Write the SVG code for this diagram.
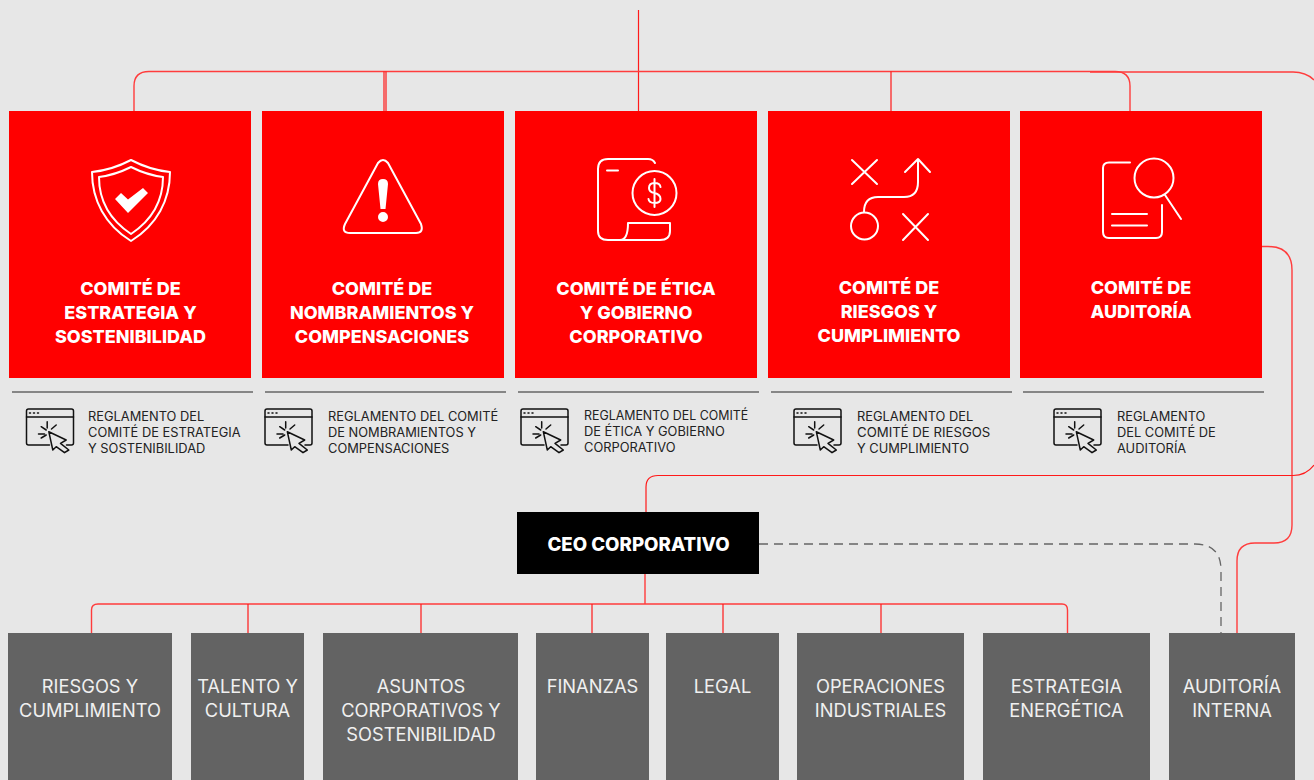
<svg xmlns="http://www.w3.org/2000/svg" width="1314" height="780" viewBox="0 0 1314 780">
<style>
.red{fill:#ff0000}
.gray{fill:#636363}
.t{font-family:"Inter","Liberation Sans",sans-serif;font-weight:800;font-size:18px;fill:#fff;text-anchor:middle}
.c{font-size:18.700px}
.g{font-family:"Inter","Liberation Sans",sans-serif;font-size:18.300px;fill:#f0f0f0;text-anchor:middle}
.r{font-family:"Inter","Liberation Sans",sans-serif;font-size:12.850px;fill:#222}
.rule{stroke:#666;stroke-width:1.5;fill:none}
.ic{fill:none;stroke:#fff;stroke-width:2;stroke-linecap:round;stroke-linejoin:round}
.conn{fill:none;stroke:#ff1a1a;stroke-width:1.2}
.soft{fill:none;stroke:#ff3c3c;stroke-width:1.4}
.dash{fill:none;stroke:#666;stroke-width:1.3;stroke-dasharray:9 6}
.br{fill:none;stroke:#111;stroke-width:1.500;stroke-linejoin:round;stroke-linecap:round}
</style>
<defs>
<g id="click">
<path class="br" d="M24 37H3a2 2 0 0 1-2-2V3a2 2 0 0 1 2-2h43a2 2 0 0 1 2 2v32a2 2 0 0 1-2 2h-5"/>
<path class="br" d="M1 9H48"/>
<path class="br" d="M4 5h1M8 5h1M12 5h1"/>
<path class="br" d="M23.300 23.700L40.700 32L35 35.300L43.300 42L39 44.700L30.700 38.700L27.300 42Z"/>
<path class="br" d="M21.700 13.700V20M30.700 17L26 21M13 26H19M15.700 18.700L20.700 22M15.700 30L20.700 27"/>
</g>
</defs>
<rect width="1314" height="780" fill="#e7e7e7"/>
<g id="connectors">
<path class="conn" d="M638.500 10V111"/>
<path class="soft" d="M134 111V86Q134 71.500 149 71.500H1115Q1130 71.500 1130 86V111"/>
<path class="conn" d="M384 71.500V111M386 71.500V111M891 71.500V111"/>
<path class="soft" d="M1090 72H1293Q1306 72 1314 80"/>
<path class="soft" d="M1262 246.500H1268Q1292 246.500 1292 270V525Q1292 543 1274 543H1255Q1237 543 1237 561V633"/>
<path class="conn" d="M646 512V487Q646 475.500 658 475.500H1293Q1306 475.500 1314 465"/>
<path class="soft" d="M645 574V604M91.500 633V610Q91.500 604 98 604H1062Q1067.500 604 1067.500 610V633"/>
<path class="conn" d="M248 604V633M421 604V633M592 604V633M723 604V633M881 604V633"/>
<path class="dash" d="M759 544H1195Q1221 544 1221 570V633"/>
</g>
<g id="node-estrategia">
<rect class="red" x="9" y="111" width="242" height="267"/>
<path class="ic" d="M131 160Q112 170 92 172C92 200 105 225 131 241C157 225 170 200 170 172Q150 170 131 160Z"/>
<path class="ic" d="M131 167Q115 175 99 177C99 200 110 220 131 234C152 220 163 200 163 177Q147 175 131 167Z"/>
<path d="M115 199l6-6 7 6.500 15-11.500 5 5-20 20z" fill="#fff"/>
<text class="t"><tspan x="130.500" y="295">COMITÉ DE</tspan><tspan x="130.500" y="319">ESTRATEGIA Y</tspan><tspan x="130.500" y="343">SOSTENIBILIDAD</tspan></text>
</g>
<g id="node-nombramientos">
<rect class="red" x="262" y="111" width="242" height="267"/>
<path class="ic" d="M378 163Q383 157 388 163L421 224Q424 233 416 233H350Q341 233 345 224Z"/>
<path d="M378 184q0-5 5-5t5 5l-2.500 25h-5zM383 212a5 5 0 1 1 0 10a5 5 0 1 1 0-10z" fill="#fff"/>
<text class="t"><tspan x="382" y="295">COMITÉ DE</tspan><tspan x="382" y="319">NOMBRAMIENTOS Y</tspan><tspan x="382" y="343">COMPENSACIONES</tspan></text>
</g>
<g id="node-etica">
<rect class="red" x="515" y="111" width="242" height="267"/>
<path class="ic" d="M655 163Q653 159 648 159H608Q598 159 598 169V231Q598 240 608 240H660Q670 240 670 231V223H628Q628 240 620 240"/>
<path class="ic" d="M607 170.500H618"/>
<circle class="ic" cx="654.500" cy="193" r="22"/>
<path class="ic" d="M660.500 187Q660 183 654.500 183Q649 183 649 188Q649 192 654.500 193Q660.500 194.500 660.500 199Q660.500 203 654.500 203Q649 203 648.500 199M654.500 179V207"/>
<text class="t"><tspan x="636" y="295">COMITÉ DE ÉTICA</tspan><tspan x="636" y="319">Y GOBIERNO</tspan><tspan x="636" y="343">CORPORATIVO</tspan></text>
</g>
<g id="node-riesgos">
<rect class="red" x="768" y="111" width="242" height="267"/>
<path class="ic" d="M852 160L877 184M877 160L852 184M903 214L928 240M928 214L903 240M905 172L918 159L930 172M918 159V182Q918 197 904 197H878Q864 197 864 212"/>
<circle class="ic" cx="864.500" cy="226" r="13.500"/>
<text class="t"><tspan x="889" y="294">COMITÉ DE</tspan><tspan x="889" y="318">RIESGOS Y</tspan><tspan x="889" y="342">CUMPLIMIENTO</tspan></text>
</g>
<g id="node-auditoria">
<rect class="red" x="1020" y="111" width="242" height="267"/>
<path class="ic" d="M1130 162.500H1109Q1103 162.500 1103 168V232Q1103 238 1109 238H1156Q1162 238 1162 232V205M1112 214H1147M1112 225.500H1147M1165 195L1181 219"/>
<circle class="ic" cx="1154" cy="178" r="19.500"/>
<text class="t"><tspan x="1141" y="294">COMITÉ DE</tspan><tspan x="1141" y="318">AUDITORÍA</tspan></text>
</g>
<g id="reglamento-1">
<path class="rule" d="M12 392H253"/>
<use href="#click" x="25.500" y="408"/>
<text class="r"><tspan x="88" y="421">REGLAMENTO DEL</tspan><tspan x="88" y="437">COMITÉ DE ESTRATEGIA</tspan><tspan x="88" y="453">Y SOSTENIBILIDAD</tspan></text>
</g>
<g id="reglamento-2">
<path class="rule" d="M265 392H506"/>
<use href="#click" x="264" y="408"/>
<text class="r"><tspan x="328" y="421">REGLAMENTO DEL COMITÉ</tspan><tspan x="328" y="437">DE NOMBRAMIENTOS Y</tspan><tspan x="328" y="453">COMPENSACIONES</tspan></text>
</g>
<g id="reglamento-3">
<path class="rule" d="M518 392H759"/>
<use href="#click" x="520" y="408"/>
<text class="r"><tspan x="584" y="420" font-size="12.400">REGLAMENTO DEL COMITÉ</tspan><tspan x="584" y="436">DE ÉTICA Y GOBIERNO</tspan><tspan x="584" y="452">CORPORATIVO</tspan></text>
</g>
<g id="reglamento-4">
<path class="rule" d="M771 392H1012"/>
<use href="#click" x="793" y="408"/>
<text class="r"><tspan x="857" y="421">REGLAMENTO DEL</tspan><tspan x="857" y="437" font-size="13.200">COMITÉ DE RIESGOS</tspan><tspan x="857" y="453">Y CUMPLIMIENTO</tspan></text>
</g>
<g id="reglamento-5">
<path class="rule" d="M1023 392H1264"/>
<use href="#click" x="1053" y="408"/>
<text class="r"><tspan x="1117" y="421">REGLAMENTO</tspan><tspan x="1117" y="437">DEL COMITÉ DE</tspan><tspan x="1117" y="453">AUDITORÍA</tspan></text>
</g>
<g id="node-ceo">
<rect x="517" y="512" width="242" height="62" fill="#000"/>
<text class="t c" x="638.500" y="551">CEO CORPORATIVO</text>
</g>
<g id="node-riesgos-cumplimiento">
<rect class="gray" x="8" y="633" width="164" height="147"/>
<text class="g"><tspan x="90" y="693">RIESGOS Y</tspan><tspan x="90" y="717">CUMPLIMIENTO</tspan></text>
</g>
<g id="node-talento">
<rect class="gray" x="191" y="633" width="113" height="147"/>
<text class="g"><tspan x="247.500" y="693">TALENTO Y</tspan><tspan x="247.500" y="717">CULTURA</tspan></text>
</g>
<g id="node-asuntos">
<rect class="gray" x="323" y="633" width="195" height="147"/>
<text class="g"><tspan x="421" y="693">ASUNTOS</tspan><tspan x="421" y="717">CORPORATIVOS Y</tspan><tspan x="421" y="741">SOSTENIBILIDAD</tspan></text>
</g>
<g id="node-finanzas">
<rect class="gray" x="536" y="633" width="113" height="147"/>
<text class="g" x="592.500" y="693">FINANZAS</text>
</g>
<g id="node-legal">
<rect class="gray" x="666" y="633" width="113" height="147"/>
<text class="g" x="722.500" y="693">LEGAL</text>
</g>
<g id="node-operaciones">
<rect class="gray" x="797" y="633" width="167" height="147"/>
<text class="g"><tspan x="880.500" y="693">OPERACIONES</tspan><tspan x="880.500" y="717">INDUSTRIALES</tspan></text>
</g>
<g id="node-energetica">
<rect class="gray" x="983" y="633" width="167" height="147"/>
<text class="g"><tspan x="1066.500" y="693">ESTRATEGIA</tspan><tspan x="1066.500" y="717">ENERGÉTICA</tspan></text>
</g>
<g id="node-auditoria-interna">
<rect class="gray" x="1169" y="633" width="126" height="147"/>
<text class="g"><tspan x="1232" y="693">AUDITORÍA</tspan><tspan x="1232" y="717">INTERNA</tspan></text>
</g>
</svg>
